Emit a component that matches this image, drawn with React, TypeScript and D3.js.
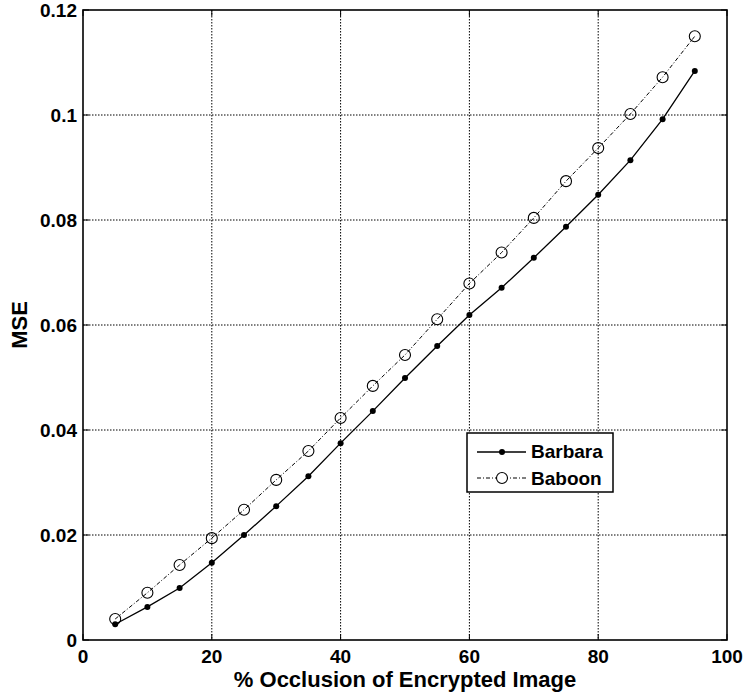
import React from "react";
import * as d3 from "d3";

// % occlusion levels
const occlusion = [5, 10, 15, 20, 25, 30, 35, 40, 45, 50, 55, 60, 65, 70, 75, 80, 85, 90, 95];
// MSE values
const barbara = [0.003, 0.0063, 0.0099, 0.0147, 0.02, 0.0255, 0.0312, 0.0375, 0.0436, 0.0499, 0.056, 0.0619, 0.0671, 0.0728, 0.0787, 0.0848, 0.0914, 0.0992, 0.1084];
const baboon = [0.004, 0.009, 0.0143, 0.0194, 0.0248, 0.0305, 0.036, 0.0423, 0.0484, 0.0543, 0.0611, 0.0679, 0.0738, 0.0804, 0.0874, 0.0937, 0.1002, 0.1072, 0.115];
const xTicks = [0, 20, 40, 60, 80, 100];
const yTicks = [0, 0.02, 0.04, 0.06, 0.08, 0.1, 0.12];

const W = 743;
const H = 696;
const left = 83;
const right = 727;
const top = 10;
const bottom = 640;
const font = "'Liberation Sans', Arial, Helvetica, sans-serif";

export default function App() {
  const x = d3.scaleLinear().domain([0, 100]).range([left, right]);
  const y = d3.scaleLinear().domain([0, 0.12]).range([bottom, top]);

  const line = d3
    .line<number>()
    .x((d, i) => x(occlusion[i]))
    .y((d) => y(d));

  return (
    <svg
      width={W}
      height={H}
      style={{ position: "absolute", left: 0, top: 0, background: "#fff" }}
      fontFamily={font}
    >
      {/* grid */}
      {xTicks.slice(1, -1).map((t) => (
        <line key={"gx" + t} x1={x(t)} x2={x(t)} y1={top} y2={bottom} stroke="#000" strokeWidth={1} strokeDasharray="1.5,1.5" />
      ))}
      {yTicks.slice(1, -1).map((t) => (
        <line key={"gy" + t} x1={left} x2={right} y1={y(t)} y2={y(t)} stroke="#000" strokeWidth={1} strokeDasharray="1.5,1.5" />
      ))}

      {/* ticks */}
      {xTicks.map((t) => (
        <g key={"tx" + t}>
          <line x1={x(t)} x2={x(t)} y1={bottom} y2={bottom - 6} stroke="#000" />
          <line x1={x(t)} x2={x(t)} y1={top} y2={top + 6} stroke="#000" />
          <text x={x(t)} y={bottom + 23} textAnchor="middle" fontSize={19} fontWeight="bold">
            {t}
          </text>
        </g>
      ))}
      {yTicks.map((t) => (
        <g key={"ty" + t}>
          <line x1={left} x2={left + 6} y1={y(t)} y2={y(t)} stroke="#000" />
          <line x1={right} x2={right - 6} y1={y(t)} y2={y(t)} stroke="#000" />
          <text x={left - 6} y={y(t) + 7} textAnchor="end" fontSize={19} fontWeight="bold">
            {t === 0 ? "0" : String(t)}
          </text>
        </g>
      ))}

      {/* box */}
      <rect x={left} y={top} width={right - left} height={bottom - top} fill="none" stroke="#000" strokeWidth={1.6} />

      {/* series */}
      <path d={line(barbara) || ""} fill="none" stroke="#000" strokeWidth={1.3} />
      {barbara.map((v, i) => (
        <circle key={"b" + i} cx={x(occlusion[i])} cy={y(v)} r={3} fill="#000" />
      ))}
      <path d={line(baboon) || ""} fill="none" stroke="#000" strokeWidth={1} strokeDasharray="4,2,1,2" />
      {baboon.map((v, i) => (
        <circle key={"o" + i} cx={x(occlusion[i])} cy={y(v)} r={5.5} fill="none" stroke="#000" strokeWidth={1.1} />
      ))}

      {/* legend */}
      <g>
        <rect x={467} y={433} width={146} height={59} fill="#fff" stroke="#000" strokeWidth={1.5} />
        <line x1={477} x2={526} y1={452} y2={452} stroke="#000" strokeWidth={1.3} />
        <circle cx={502} cy={452} r={3} fill="#000" />
        <text x={531} y={458} fontSize={19} fontWeight="bold">Barbara</text>
        <line x1={477} x2={526} y1={478} y2={478} stroke="#000" strokeWidth={1} strokeDasharray="4,2,1,2" />
        <circle cx={502} cy={478} r={5.5} fill="#fff" stroke="#000" strokeWidth={1.1} />
        <text x={531} y={485} fontSize={19} fontWeight="bold">Baboon</text>
      </g>

      {/* axis titles */}
      <text x={(left + right) / 2} y={687} textAnchor="middle" fontSize={22} fontWeight="bold">
        % Occlusion of Encrypted Image
      </text>
      <text
        transform={`translate(27,${(top + bottom) / 2}) rotate(-90)`}
        textAnchor="middle"
        fontSize={22}
        fontWeight="bold"
      >
        MSE
      </text>
    </svg>
  );
}
